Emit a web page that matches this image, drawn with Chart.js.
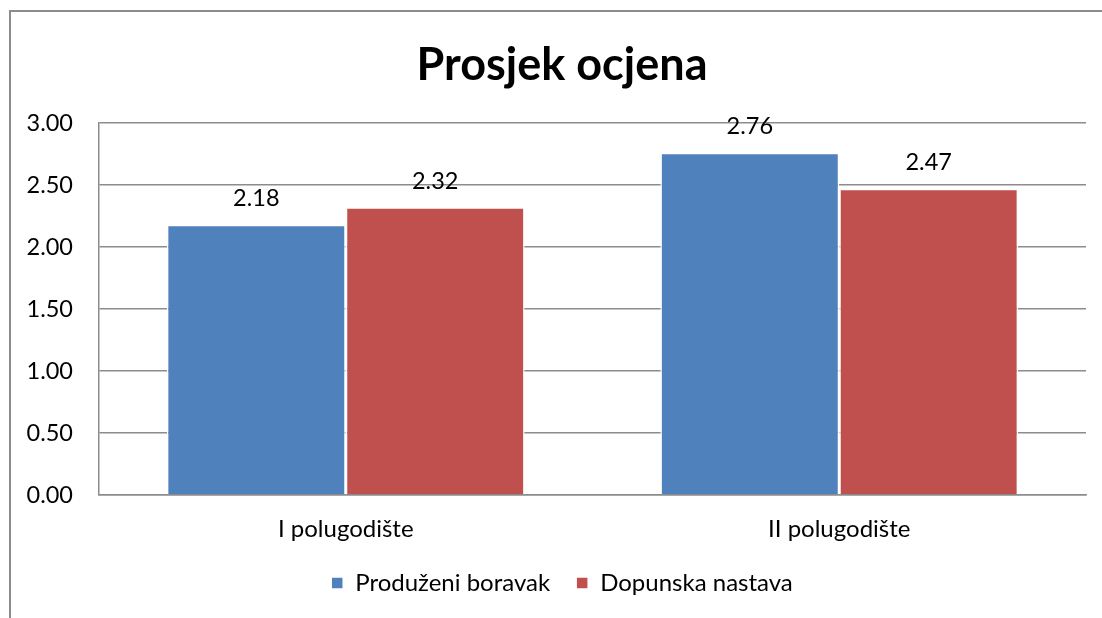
<!DOCTYPE html>
<html>
<head>
<meta charset="utf-8">
<script src="https://cdn.jsdelivr.net/npm/chart.js@4.4.1/dist/chart.umd.min.js"></script>
<style>
  html, body { margin: 0; padding: 0; background: #fff; overflow: hidden; width: 1102px; height: 618px; }
  #frame { position: absolute; left: 9px; top: 10px; width: 1110px; height: 640px; border-left: 2px solid #8c8c8c; border-top: 2px solid #8c8c8c; }
  #c { position: absolute; left: 0; top: 0; }
</style>
</head>
<body>
<div id="frame"><canvas id="c" width="1102" height="620"></canvas></div>
<script>
const categories = ["I polugodište", "II polugodište"];
const seriesNames = ["Produženi boravak", "Dopunska nastava"];
const produzeniBoravak = [2.18, 2.76];
const dopunskaNastava = [2.32, 2.47];
const yTicks = [0, 0.5, 1.0, 1.5, 2.0, 2.5, 3.0];
const titleText = "Prosjek ocjena";

const FONT = "Lato, 'Open Sans', sans-serif";
const gridColor = "#8c8c8c";

const valueLabels = {
  id: "valueLabels",
  afterDatasetsDraw(chart) {
    const ctx = chart.ctx;
    ctx.save();
    ctx.font = "23.5px " + FONT;
    ctx.fillStyle = "#000";
    ctx.textAlign = "center";
    ctx.textBaseline = "middle";
    chart.data.datasets.forEach((ds, i) => {
      chart.getDatasetMeta(i).data.forEach((bar, j) => {
        ctx.fillText(ds.data[j].toFixed(2), bar.x, bar.y - 26);
      });
    });
    ctx.restore();
  }
};

new Chart(document.getElementById("c"), {
  type: "bar",
  data: {
    labels: categories,
    datasets: [
      { label: seriesNames[0], data: produzeniBoravak, backgroundColor: "#4F81BD", borderColor: "#ffffff", borderWidth: 1.5 },
      { label: seriesNames[1], data: dopunskaNastava, backgroundColor: "#C0504D", borderColor: "#ffffff", borderWidth: 1.5 }
    ]
  },
  options: {
    responsive: false,
    animation: false,
    layout: { padding: { left: 0, right: 0, top: 0, bottom: 27 } },
    datasets: { bar: { barPercentage: 1.0, categoryPercentage: 0.725 } },
    plugins: {
      title: {
        display: true,
        text: titleText,
        color: "#000",
        font: { family: FONT, size: 45, weight: "bold" },
        padding: { top: 26, bottom: 31 }
      },
      legend: {
        position: "bottom",
        labels: {
          color: "#000",
          font: { family: FONT, size: 24 },
          boxWidth: 12,
          boxHeight: 12,
          padding: 26
        }
      },
      tooltip: { enabled: false }
    },
    scales: {
      y: {
        min: 0,
        max: 3,
        afterBuildTicks(scale) { scale.ticks = yTicks.map(v => ({ value: v })); },
        afterFit(scale) { scale.width = 88; },
        ticks: {
          color: "#000",
          font: { family: FONT, size: 23.5 },
          padding: 26,
          callback: (v) => Number(v).toFixed(2)
        },
        grid: { color: gridColor, lineWidth: 1.5, drawTicks: false },
        border: { display: true, color: gridColor, width: 1.5 }
      },
      yRightSpace: {
        type: "linear",
        position: "right",
        afterFit(scale) { scale.width = 27; },
        ticks: { display: false },
        grid: { display: false, drawTicks: false },
        border: { display: false }
      },
      x: {
        afterFit(scale) { scale.height = 50; },
        ticks: { color: "#000", font: { family: FONT, size: 24 }, padding: 20 },
        grid: { display: false, drawTicks: false },
        border: { display: true, color: gridColor, width: 1.5 }
      }
    }
  },
  plugins: [valueLabels]
});
</script>
</body>
</html>
